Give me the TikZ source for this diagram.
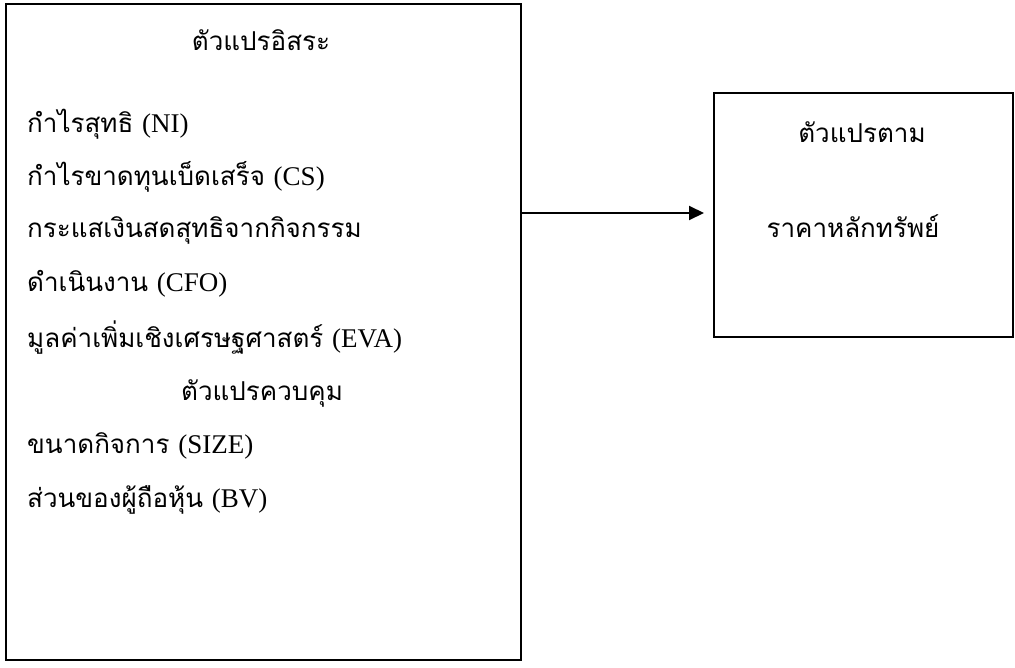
\documentclass[tikz,border=0pt]{standalone}
\usepackage{fontspec}
\setmainfont{Liberation Serif}
\newfontfamily\thaifont[Script=Thai]{Loma}
\usetikzlibrary{arrows.meta}
\newcommand\latpart[1]{{\rmfamily\fontsize{27}{27}\selectfont #1}}
\begin{document}
\begin{tikzpicture}[x=1pt,y=-1pt,
  box/.style={draw=black, line width=2pt, minimum width=#1, inner sep=0pt},
  txt/.style={font=\thaifont\fontsize{26}{26}\selectfont, inner sep=0pt},
  item/.style={txt, anchor=base west},
  title/.style={txt, anchor=base},
  conn/.style={draw=black, line width=2pt, -{Triangle[length=15pt,width=14pt]}}]
\useasboundingbox (0,0) rectangle (1015,667);
\node[box=515pt, minimum height=656pt] (L) at (263.5,332) {};
\node[box=299pt, minimum height=244pt] (R) at (863.5,215) {};
\node[title] (t1) at (261,50) {ตัวแปรอิสระ};
\node[item] (i1) at (27,132) {กำไรสุทธิ \latpart{(NI)}};
\node[item] (i2) at (27,185) {กำไรขาดทุนเบ็ดเสร็จ \latpart{(CS)}};
\node[item] (i3) at (27,237) {กระแสเงินสดสุทธิจากกิจกรรม};
\node[item] (i4) at (27,291) {ดำเนินงาน \latpart{(CFO)}};
\node[item] (i5) at (27,347) {มูลค่าเพิ่มเชิงเศรษฐศาสตร์ \latpart{(EVA)}};
\node[title] (t2) at (262,400) {ตัวแปรควบคุม};
\node[item] (i6) at (27,453) {ขนาดกิจการ \latpart{(SIZE)}};
\node[item] (i7) at (27,507) {ส่วนของผู้ถือหุ้น \latpart{(BV)}};
\node[title] (r1) at (862,142) {ตัวแปรตาม};
\node[title] (r2) at (853,237) {ราคาหลักทรัพย์};
\coordinate (ay) at (0,213);
\draw[conn, shorten >=9pt] (L.east |- ay) -- (R.west |- ay);
\end{tikzpicture}
\end{document}
